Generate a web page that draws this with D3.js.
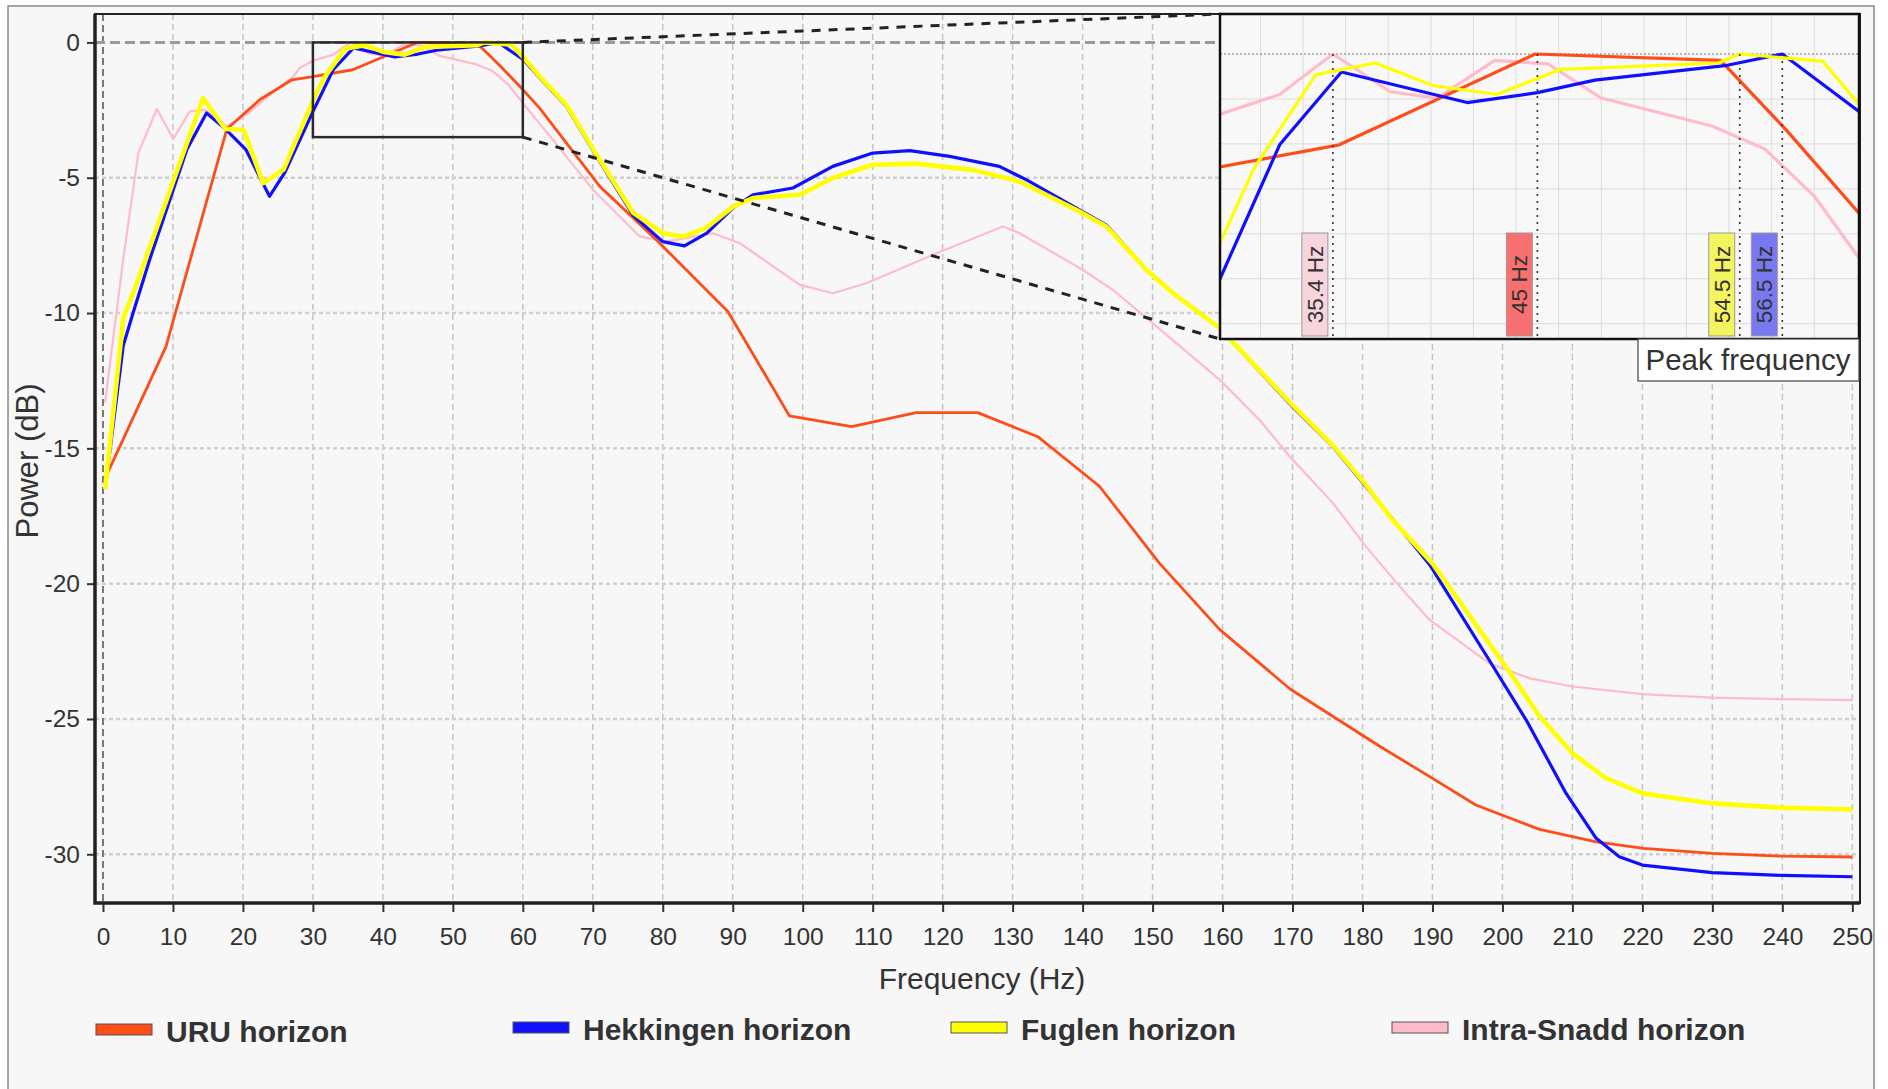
<!DOCTYPE html>
<html>
<head>
<meta charset="utf-8">
<script src="https://cdn.jsdelivr.net/npm/d3@7"></script>
<style>
    body { margin: 0; background: #ffffff; }
    text { font-family: "Liberation Sans", Arial, sans-serif; fill: #333333; }
</style>
</head>
<body>
<div class="chart"></div>
<script>
var svgWidth = 1888;
var svgHeight = 1089;

// values
var xTickValues = [0, 10, 20, 30, 40, 50, 60, 70, 80, 90, 100, 110, 120, 130, 140, 150, 160, 170, 180, 190, 200, 210, 220, 230, 240, 250];
var yTickValues = [0, -5, -10, -15, -20, -25, -30];

var seriesNames = ["URU horizon", "Hekkingen horizon", "Fuglen horizon", "Intra-Snadd horizon"];

var uruFreq = [0.5, 9.0, 17.7, 22.4, 27.0, 30.0, 35.7, 44.9, 53.6, 56.7, 60.1, 62.4, 71.0, 79.1, 89.3, 98.1, 107.0, 116.2, 125.0, 133.6, 142.4, 151.0, 159.6, 169.7, 182.4, 189.6, 196.2, 205.3, 213.4, 220.2, 230.0, 240.0, 250.0];
var uruPower = [-16.0, -11.24, -3.2, -2.12, -1.38, -1.26, -1.01, 0, -0.07, -0.85, -1.77, -2.43, -5.32, -7.3, -9.94, -13.8, -14.2, -13.68, -13.68, -14.57, -16.4, -19.25, -21.7, -23.9, -26.0, -27.13, -28.18, -29.08, -29.54, -29.78, -29.97, -30.07, -30.1];

var hekFreq = [0.3, 2.9, 4.3, 6.7, 12.0, 14.8, 17.5, 20.4, 23.8, 26.0, 30.1, 32.9, 35.8, 41.7, 45.0, 47.7, 53.8, 56.5, 60.1, 62.4, 66.2, 71.0, 75.8, 80.0, 83.1, 86.3, 90.1, 92.9, 98.6, 104.3, 110.0, 115.3, 121.0, 128.1, 132.0, 140.0, 143.4, 149.1, 152.9, 159.6, 170.0, 175.8, 180.5, 189.6, 198.1, 203.4, 209.1, 213.4, 216.7, 220.0, 230.0, 240.0, 250.0];
var hekPower = [-16.5, -11.2, -10.0, -8.0, -3.95, -2.61, -3.2, -3.95, -5.69, -4.8, -2.5, -1.01, -0.2, -0.54, -0.43, -0.29, -0.13, 0, -0.64, -1.3, -2.35, -4.4, -6.4, -7.36, -7.52, -7.05, -6.1, -5.63, -5.38, -4.58, -4.09, -4.0, -4.21, -4.58, -5.08, -6.25, -6.75, -8.4, -9.26, -10.56, -13.46, -14.94, -16.41, -19.3, -22.82, -25.04, -27.75, -29.41, -30.09, -30.4, -30.68, -30.78, -30.83];

var fugFreq = [0.3, 2.9, 5.0, 11.6, 14.3, 17.5, 20.1, 22.9, 25.8, 30.1, 31.7, 34.6, 37.4, 40.1, 43.1, 46.1, 53.5, 54.5, 58.4, 60.1, 62.4, 66.2, 71.0, 75.8, 80.0, 82.9, 86.2, 90.1, 92.9, 99.6, 104.3, 110.0, 116.2, 124.3, 131.0, 140.0, 143.4, 149.1, 152.9, 159.6, 170.0, 175.8, 180.5, 184.3, 190.0, 196.7, 200.5, 205.3, 210.0, 214.8, 220.0, 230.0, 240.0, 250.0];
var fugPower = [-16.5, -10.2, -8.8, -4.0, -2.06, -3.2, -3.23, -5.2, -4.7, -2.1, -1.27, -0.23, -0.1, -0.35, -0.45, -0.17, -0.1, 0, -0.08, -0.56, -1.26, -2.3, -4.34, -6.3, -7.05, -7.17, -6.86, -6.06, -5.75, -5.63, -5.01, -4.52, -4.48, -4.71, -5.14, -6.31, -6.8, -8.4, -9.26, -10.56, -13.4, -14.9, -16.35, -17.65, -19.25, -21.7, -23.07, -24.9, -26.27, -27.19, -27.75, -28.12, -28.28, -28.34];

var snaddFreq = [0.3, 2.9, 5.05, 7.7, 10.05, 12.4, 14.6, 17.7, 20.5, 24.0, 27.2, 28.1, 30.1, 32.9, 35.4, 38.1, 40.3, 43.0, 45.5, 48.0, 53.2, 55.7, 58.0, 60.1, 64.3, 70.05, 76.7, 80.5, 87.2, 91.0, 99.6, 104.3, 109.1, 118.6, 128.6, 131.0, 140.0, 144.3, 150.0, 159.6, 165.3, 169.6, 175.8, 180.5, 185.3, 189.6, 198.1, 203.9, 210.0, 220.0, 230.0, 240.0, 250.0];
var snaddPower = [-13.3, -8.0, -4.09, -2.46, -3.57, -2.55, -2.49, -3.1, -2.67, -1.9, -1.26, -0.95, -0.67, -0.45, 0, -0.42, -0.49, -0.07, -0.11, -0.49, -0.8, -1.06, -1.58, -2.27, -3.6, -5.45, -7.17, -7.36, -7.05, -7.42, -8.96, -9.27, -8.9, -7.85, -6.8, -7.05, -8.4, -9.14, -10.37, -12.47, -13.95, -15.3, -17.03, -18.63, -20.1, -21.34, -22.94, -23.5, -23.8, -24.08, -24.21, -24.27, -24.3];

var peakFreqs = [35.4, 45, 54.5, 56.5];
var peakLabels = ["35.4 Hz", "45 Hz", "54.5 Hz", "56.5 Hz"];

// zoom window shown in the inset
var zoomFreq = [30, 60];
var zoomPower = [0, -3.5];

var colors = ["#ff4d1a", "#1010ff", "#ffff00", "#ffbcc8"];
var boxColors = ["#f87070", "#7878f0", "#f4f45e", "#f8d4dc"];

var series = [
    { name: seriesNames[3], color: colors[3], width: 2.2, box: boxColors[3], f: snaddFreq, p: snaddPower },
    { name: seriesNames[0], color: colors[0], width: 2.8, box: boxColors[0], f: uruFreq, p: uruPower },
    { name: seriesNames[1], color: colors[1], width: 3.2, box: boxColors[1], f: hekFreq, p: hekPower },
    { name: seriesNames[2], color: colors[2], width: 4.6, box: boxColors[2], f: fugFreq, p: fugPower }
];
series.forEach(function(s) {
    s.values = s.f.map(function(d, i) { return { f: d, p: s.p[i] }; });
});
// peak order matches: Intra-Snadd, URU, Fuglen, Hekkingen
var peakSeries = [series[0], series[1], series[3], series[2]];

var plot = { left: 95, top: 14, right: 1860, bottom: 903 };

var svg = d3
    .select(".chart")
    .append("svg")
    .attr("width", svgWidth)
    .attr("height", svgHeight);

svg.append("rect")
    .attr("x", 8)
    .attr("y", 6)
    .attr("width", 1866)
    .attr("height", 1095)
    .attr("fill", "#f7f7f7")
    .attr("stroke", "#8a8a8a")
    .attr("stroke-width", 1.5);

var x = d3.scaleLinear()
    .domain([-1.14, 251.1])
    .range([plot.left, plot.right]);

var y = d3.scaleLinear()
    .domain([1.05, -31.8])
    .range([plot.top, plot.bottom]);

// grid
var grid = svg.append("g");

grid.selectAll(".vgrid")
    .data(xTickValues.slice(1))
    .enter()
    .append("line")
    .attr("x1", d => x(d))
    .attr("x2", d => x(d))
    .attr("y1", plot.top)
    .attr("y2", plot.bottom)
    .attr("stroke", "#c4c4c4")
    .attr("stroke-width", 1.5)
    .attr("stroke-dasharray", "6,4");

grid.selectAll(".hgrid")
    .data(yTickValues.slice(1))
    .enter()
    .append("line")
    .attr("x1", plot.left)
    .attr("x2", plot.right)
    .attr("y1", d => y(d))
    .attr("y2", d => y(d))
    .attr("stroke", "#d0d0d0")
    .attr("stroke-width", 2.5)
    .attr("stroke-dasharray", "4,3");

grid.append("line")
    .attr("x1", x(0))
    .attr("x2", x(0))
    .attr("y1", plot.top)
    .attr("y2", plot.bottom)
    .attr("stroke", "#777777")
    .attr("stroke-width", 2)
    .attr("stroke-dasharray", "7,4");

grid.append("line")
    .attr("x1", plot.left)
    .attr("x2", plot.right)
    .attr("y1", y(0))
    .attr("y2", y(0))
    .attr("stroke", "#9a9a9a")
    .attr("stroke-width", 3)
    .attr("stroke-dasharray", "10,5");

// curves
var line = d3.line()
    .x(d => x(d.f))
    .y(d => y(d.p));

svg.append("g")
    .selectAll("path")
    .data(series)
    .enter()
    .append("path")
    .attr("d", d => line(d.values))
    .attr("fill", "none")
    .attr("stroke", d => d.color)
    .attr("stroke-width", d => d.width)
    .attr("stroke-linejoin", "round");

// axes
var bottomAxis = d3.axisBottom(x)
    .tickValues(xTickValues)
    .tickFormat(d => String(d))
    .tickSize(9)
    .tickPadding(16)
    .tickSizeOuter(0);

var leftAxis = d3.axisLeft(y)
    .tickValues(yTickValues)
    .tickFormat(d => String(d))
    .tickSize(8)
    .tickPadding(7)
    .tickSizeOuter(0);

var xAxis = svg.append("g")
    .attr("transform", `translate(0, ${plot.bottom})`)
    .call(bottomAxis);

var yAxis = svg.append("g")
    .attr("transform", `translate(${plot.left}, 0)`)
    .call(leftAxis);

[xAxis, yAxis].forEach(function(a) {
    a.select(".domain").remove();
    a.selectAll(".tick line").attr("stroke", "#333").attr("stroke-width", 2);
    a.selectAll(".tick text")
        .attr("font-size", "24.5px")
        .attr("font-family", "Liberation Sans, Arial, sans-serif")
        .attr("fill", "#333");
});

// frame of the plot
svg.append("rect")
    .attr("x", plot.left)
    .attr("y", plot.top)
    .attr("width", plot.right - plot.left)
    .attr("height", plot.bottom - plot.top)
    .attr("fill", "none")
    .attr("stroke", "#222")
    .attr("stroke-width", 2);

svg.append("path")
    .attr("d", `M${plot.left},${plot.top} V${plot.bottom} H${plot.right}`)
    .attr("fill", "none")
    .attr("stroke", "#222")
    .attr("stroke-width", 3.5);

svg.append("text")
    .attr("x", 982)
    .attr("y", 989)
    .attr("text-anchor", "middle")
    .attr("font-size", "30px")
    .text("Frequency (Hz)");

svg.append("text")
    .attr("transform", "rotate(-90)")
    .attr("x", -461)
    .attr("y", 38)
    .attr("text-anchor", "middle")
    .attr("font-size", "31px")
    .text("Power (dB)");

// zoom rectangle and connectors
var zx0 = x(zoomFreq[0]), zx1 = x(zoomFreq[1]);
var zy0 = y(zoomPower[0]), zy1 = y(zoomPower[1]);

svg.append("rect")
    .attr("x", zx0)
    .attr("y", zy0)
    .attr("width", zx1 - zx0)
    .attr("height", zy1 - zy0)
    .attr("fill", "none")
    .attr("stroke", "#2a2a2a")
    .attr("stroke-width", 2.5);

var inset = { left: 1220, top: 14, right: 1859, bottom: 339 };

svg.append("line")
    .attr("x1", zx1).attr("y1", zy0)
    .attr("x2", inset.left).attr("y2", inset.top)
    .attr("stroke", "#222").attr("stroke-width", 3)
    .attr("stroke-dasharray", "9,8");

svg.append("line")
    .attr("x1", zx1).attr("y1", zy1)
    .attr("x2", inset.left).attr("y2", inset.bottom)
    .attr("stroke", "#222").attr("stroke-width", 3)
    .attr("stroke-dasharray", "9,8");

// inset
var xi = d3.scaleLinear()
    .domain([30.1, 60.1])
    .range([inset.left, inset.right]);

var yi = d3.scaleLinear()
    .domain([0.445, -3.17])
    .range([inset.top, inset.bottom]);

svg.append("clipPath")
    .attr("id", "insetClip")
    .append("rect")
    .attr("x", inset.left)
    .attr("y", inset.top)
    .attr("width", inset.right - inset.left)
    .attr("height", inset.bottom - inset.top);

var insetGroup = svg.append("g");

insetGroup.append("rect")
    .attr("x", inset.left)
    .attr("y", inset.top)
    .attr("width", inset.right - inset.left)
    .attr("height", inset.bottom - inset.top)
    .attr("fill", "#f8f8f8");

insetGroup.selectAll(".ivgrid")
    .data(d3.range(32, 60, 2))
    .enter()
    .append("line")
    .attr("x1", d => xi(d)).attr("x2", d => xi(d))
    .attr("y1", inset.top).attr("y2", inset.bottom)
    .attr("stroke", "#dcdcdc").attr("stroke-width", 1);

insetGroup.selectAll(".ihgrid")
    .data([-0.5, -1, -1.5, -2, -2.5, -3])
    .enter()
    .append("line")
    .attr("x1", inset.left).attr("x2", inset.right)
    .attr("y1", d => yi(d)).attr("y2", d => yi(d))
    .attr("stroke", "#dcdcdc").attr("stroke-width", 1);

insetGroup.append("line")
    .attr("x1", inset.left).attr("x2", inset.right)
    .attr("y1", yi(0)).attr("y2", yi(0))
    .attr("stroke", "#777").attr("stroke-width", 1.2)
    .attr("stroke-dasharray", "2,2");

var lineInset = d3.line()
    .x(d => xi(d.f))
    .y(d => yi(d.p));

insetGroup.append("g")
    .attr("clip-path", "url(#insetClip)")
    .selectAll("path")
    .data(series)
    .enter()
    .append("path")
    .attr("d", d => lineInset(d.values))
    .attr("fill", "none")
    .attr("stroke", d => d.color)
    .attr("stroke-width", 3.2)
    .attr("stroke-linejoin", "round");

// peak markers
var peaks = insetGroup.selectAll(".peak")
    .data(peakFreqs)
    .enter()
    .append("g");

peaks.append("line")
    .attr("x1", d => xi(d)).attr("x2", d => xi(d))
    .attr("y1", yi(0)).attr("y2", inset.bottom)
    .attr("stroke", "#333").attr("stroke-width", 1.6)
    .attr("stroke-dasharray", "2,5");

peaks.append("rect")
    .attr("x", d => xi(d) - 31)
    .attr("y", 233)
    .attr("width", 26)
    .attr("height", 103)
    .attr("fill", (d, i) => peakSeries[i].box)
    .attr("stroke", "#9a9a9a")
    .attr("stroke-width", 1);

peaks.append("text")
    .attr("transform", d => `translate(${xi(d) - 18}, 284.5) rotate(-90)`)
    .attr("text-anchor", "middle")
    .attr("dy", "0.36em")
    .attr("font-size", "22.5px")
    .attr("fill", "#333")
    .text((d, i) => peakLabels[i]);

insetGroup.append("rect")
    .attr("x", inset.left)
    .attr("y", inset.top)
    .attr("width", inset.right - inset.left)
    .attr("height", inset.bottom - inset.top)
    .attr("fill", "none")
    .attr("stroke", "#111")
    .attr("stroke-width", 2.5);

insetGroup.append("rect")
    .attr("x", 1638)
    .attr("y", inset.bottom)
    .attr("width", inset.right - 1638)
    .attr("height", 42)
    .attr("fill", "#ffffff")
    .attr("stroke", "#444")
    .attr("stroke-width", 1.2);

insetGroup.append("text")
    .attr("x", 1748)
    .attr("y", 370)
    .attr("text-anchor", "middle")
    .attr("font-size", "29.5px")
    .attr("fill", "#222")
    .text("Peak frequency");

// legend
var legendX = [96, 513, 951, 1392];
var legendOrder = [series[1], series[2], series[3], series[0]];

var legend = svg.selectAll(".legend")
    .data(legendOrder)
    .enter()
    .append("g")
    .attr("transform", (d, i) => `translate(${legendX[i]}, ${i === 0 ? 1024 : 1022})`);

legend.append("rect")
    .attr("width", 56)
    .attr("height", 11)
    .attr("fill", d => d.color)
    .attr("stroke", "#555")
    .attr("stroke-width", 1);

legend.append("text")
    .attr("x", 70)
    .attr("y", 18)
    .attr("font-size", "30px")
    .attr("font-weight", "bold")
    .attr("fill", "#333")
    .text(d => d.name);
</script>
</body>
</html>
